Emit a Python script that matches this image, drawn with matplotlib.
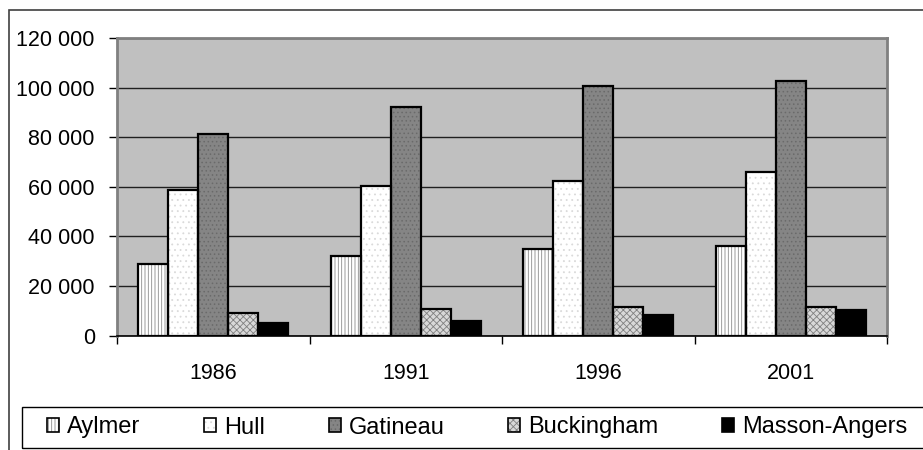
import matplotlib
matplotlib.use("Agg")
import matplotlib.pyplot as plt
import numpy as np
from matplotlib.patches import Patch, Rectangle
from matplotlib.ticker import FuncFormatter, FixedLocator

plt.rcParams["font.family"] = ["Liberation Sans", "DejaVu Sans"]
plt.rcParams["hatch.linewidth"] = 0.6

# data
years = ["1986", "1991", "1996", "2001"]
cities = ["Aylmer", "Hull", "Gatineau", "Buckingham", "Masson-Angers"]
aylmer = [28700, 32100, 34800, 36300]
hull = [58600, 60500, 62200, 65900]
gatineau = [81100, 92100, 100500, 102600]
buckingham = [8900, 10600, 11500, 11500]
masson = [5200, 5900, 8200, 10200]
series = [aylmer, hull, gatineau, buckingham, masson]

# fill colour, hatch colour, hatch pattern per city
styles = [
    ("white", "#8a8a8a", "|||||"),
    ("white", "#dadada", "..."),
    ("#858585", "#6a6a6a", "...."),
    ("#d8d8d8", "#808080", "xxxxx"),
    ("black", "black", None),
]

fig = plt.figure(figsize=(9.23, 4.5), dpi=100)
W, H = 923, 450

# outer chart border
fig.patches.append(Rectangle((9 / W, -0.2), 1.2, 1 - 10 / H + 0.2,
                             transform=fig.transFigure, fill=False,
                             edgecolor="#404040", linewidth=1.2, clip_on=False))

ax = fig.add_axes([117 / W, (H - 335.5) / H, 770 / W, 297.5 / H])
ax.set_facecolor("#c0c0c0")

x = np.arange(len(years))
w = 1 / 6.4
handles = []
for i, (vals, (fc, hc, hatch)) in enumerate(zip(series, styles)):
    pos = x + (i - 2) * w
    ax.bar(pos, vals, w, color=fc, edgecolor=hc, hatch=hatch, linewidth=0, zorder=3)
    ax.bar(pos, vals, w, fill=False, edgecolor="black", linewidth=1.6, zorder=4)
    handles.append((Patch(facecolor=fc, edgecolor=hc, hatch=hatch, linewidth=0),
                    Patch(fill=False, edgecolor="black", linewidth=1.2)))

ax.set_xlim(-0.5, len(years) - 0.5)
ax.set_ylim(0, 120000)
ax.set_yticks(np.arange(0, 120001, 20000))
ax.yaxis.set_major_formatter(FuncFormatter(lambda v, p: f"{v:,.0f}".replace(",", " ")))
ax.grid(axis="y", color="#202020", linewidth=1.0, zorder=1)

ax.xaxis.set_major_locator(FixedLocator(np.arange(len(years) + 1) - 0.5))
ax.xaxis.set_minor_locator(FixedLocator(x))
ax.set_xticklabels([], minor=False)
ax.set_xticklabels(years, minor=True)
ax.tick_params(axis="x", which="major", length=6, width=1, color="black")
ax.tick_params(axis="x", which="minor", length=0, pad=20, labelsize=15.5)
ax.tick_params(axis="y", length=6, width=1, pad=10, labelsize=15.5, color="black")

for side in ["left", "top", "right"]:
    ax.spines[side].set_color("#808080")
    ax.spines[side].set_linewidth(2)
ax.spines["bottom"].set_color("black")
ax.spines["bottom"].set_linewidth(1.2)
ax.spines["bottom"].set_zorder(5)

# legend box
fig.patches.append(Rectangle((22 / W, (H - 448) / H), 1.2, 41 / H,
                             transform=fig.transFigure, fill=False,
                             edgecolor="black", linewidth=1.0, clip_on=False))
fig.legend(handles, cities, loc="center left", bbox_to_anchor=(47 / W, (H - 427.5) / H),
           ncol=5, frameon=False, fontsize=17, handlelength=0.5, handleheight=0.5,
           handletextpad=0.35, columnspacing=2.7, borderpad=0, borderaxespad=0)

fig.savefig("out.png", dpi=100)
